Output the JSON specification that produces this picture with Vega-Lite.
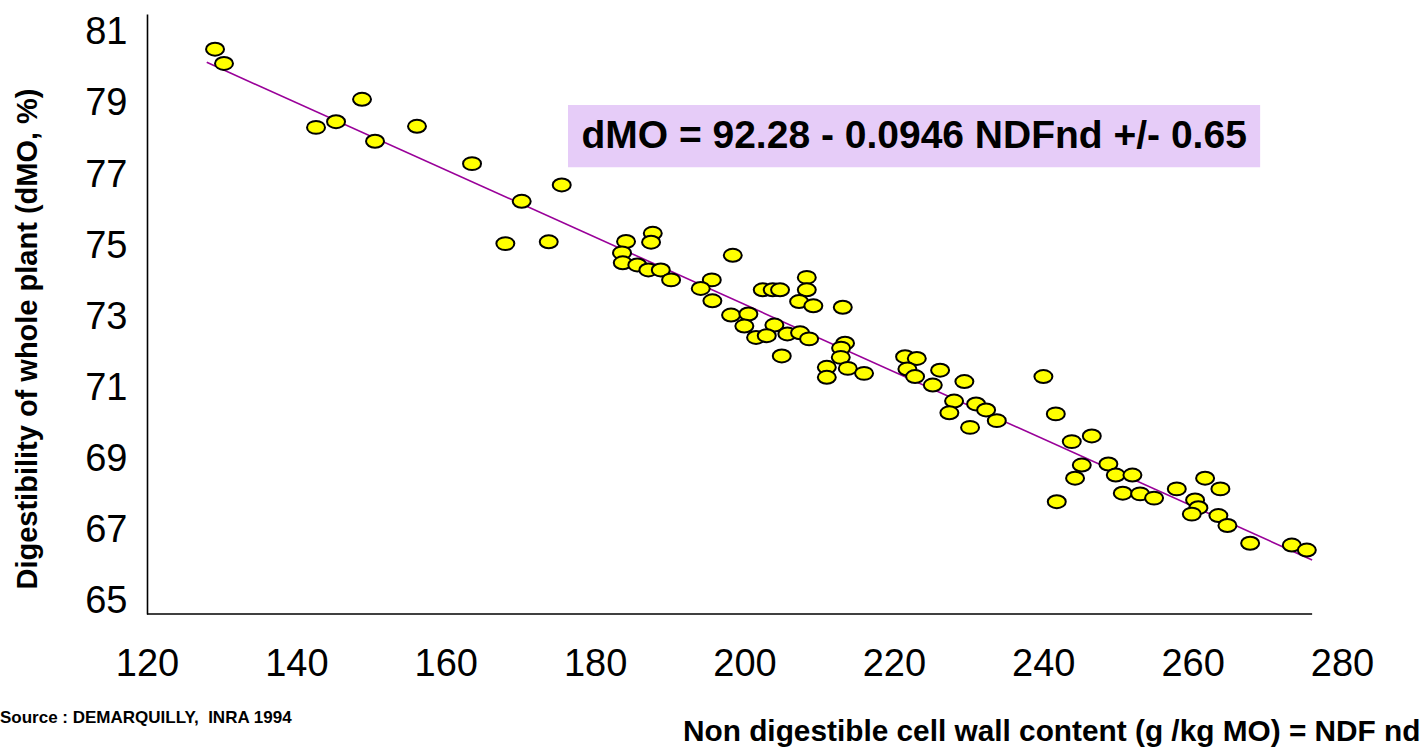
{
  "$schema": "https://vega.github.io/schema/vega-lite/v6.json",
  "width": 1195,
  "height": 600,
  "autosize": "none",
  "padding": {"left": 147, "top": 14, "right": 84, "bottom": 133},
  "background": "white",
  "config": {"view": {"stroke": null}, "font": "Liberation Sans"},
  "datasets": {
    "points": [
      {"ndf": 129.11, "dmo": 80.54}, {"ndf": 130.31, "dmo": 80.14}, {"ndf": 142.63, "dmo": 78.34}, {"ndf": 145.31, "dmo": 78.5},
      {"ndf": 148.79, "dmo": 79.13}, {"ndf": 150.53, "dmo": 77.95}, {"ndf": 156.15, "dmo": 78.37}, {"ndf": 163.52, "dmo": 77.32},
      {"ndf": 170.17, "dmo": 76.26}, {"ndf": 175.53, "dmo": 76.72}, {"ndf": 167.98, "dmo": 75.07}, {"ndf": 173.79, "dmo": 75.12},
      {"ndf": 184.14, "dmo": 75.13}, {"ndf": 187.72, "dmo": 75.36}, {"ndf": 187.49, "dmo": 75.11}, {"ndf": 183.6, "dmo": 74.81},
      {"ndf": 183.7, "dmo": 74.53}, {"ndf": 185.65, "dmo": 74.47}, {"ndf": 187.13, "dmo": 74.33}, {"ndf": 188.79, "dmo": 74.33},
      {"ndf": 190.17, "dmo": 74.05}, {"ndf": 198.43, "dmo": 74.74}, {"ndf": 195.62, "dmo": 74.05}, {"ndf": 194.14, "dmo": 73.81},
      {"ndf": 195.7, "dmo": 73.46}, {"ndf": 202.44, "dmo": 73.77}, {"ndf": 203.78, "dmo": 73.77}, {"ndf": 204.76, "dmo": 73.77},
      {"ndf": 208.34, "dmo": 74.12}, {"ndf": 208.34, "dmo": 73.77}, {"ndf": 207.31, "dmo": 73.44}, {"ndf": 209.22, "dmo": 73.32},
      {"ndf": 213.16, "dmo": 73.28}, {"ndf": 198.2, "dmo": 73.06}, {"ndf": 200.52, "dmo": 73.09}, {"ndf": 199.98, "dmo": 72.75},
      {"ndf": 204.0, "dmo": 72.78}, {"ndf": 201.55, "dmo": 72.43}, {"ndf": 202.98, "dmo": 72.48}, {"ndf": 205.74, "dmo": 72.53},
      {"ndf": 207.44, "dmo": 72.56}, {"ndf": 208.65, "dmo": 72.39}, {"ndf": 204.99, "dmo": 71.91}, {"ndf": 213.46, "dmo": 72.27},
      {"ndf": 212.93, "dmo": 72.13}, {"ndf": 212.89, "dmo": 71.87}, {"ndf": 211.02, "dmo": 71.59}, {"ndf": 211.02, "dmo": 71.31},
      {"ndf": 213.83, "dmo": 71.56}, {"ndf": 216.01, "dmo": 71.42}, {"ndf": 221.5, "dmo": 71.89}, {"ndf": 223.07, "dmo": 71.84},
      {"ndf": 221.81, "dmo": 71.54}, {"ndf": 222.84, "dmo": 71.33}, {"ndf": 226.19, "dmo": 71.51}, {"ndf": 225.21, "dmo": 71.09},
      {"ndf": 229.44, "dmo": 71.19}, {"ndf": 228.06, "dmo": 70.64}, {"ndf": 227.43, "dmo": 70.31}, {"ndf": 231.01, "dmo": 70.56},
      {"ndf": 232.35, "dmo": 70.39}, {"ndf": 233.78, "dmo": 70.09}, {"ndf": 230.2, "dmo": 69.9}, {"ndf": 240.02, "dmo": 71.33},
      {"ndf": 241.68, "dmo": 70.28}, {"ndf": 243.82, "dmo": 69.5}, {"ndf": 246.5, "dmo": 69.66}, {"ndf": 245.16, "dmo": 68.84},
      {"ndf": 244.26, "dmo": 68.47}, {"ndf": 241.81, "dmo": 67.81}, {"ndf": 248.72, "dmo": 68.87}, {"ndf": 249.71, "dmo": 68.56},
      {"ndf": 251.94, "dmo": 68.56}, {"ndf": 250.65, "dmo": 68.05}, {"ndf": 252.97, "dmo": 68.03}, {"ndf": 254.84, "dmo": 67.91},
      {"ndf": 257.88, "dmo": 68.17}, {"ndf": 261.67, "dmo": 68.47}, {"ndf": 263.72, "dmo": 68.17}, {"ndf": 260.33, "dmo": 67.86},
      {"ndf": 260.77, "dmo": 67.64}, {"ndf": 259.89, "dmo": 67.46}, {"ndf": 263.45, "dmo": 67.42}, {"ndf": 264.66, "dmo": 67.14},
      {"ndf": 267.7, "dmo": 66.64}, {"ndf": 273.28, "dmo": 66.59}, {"ndf": 275.29, "dmo": 66.45}
    ],
    "fit": [{"ndf": 128, "dmo": 80.17}, {"ndf": 276, "dmo": 66.17}],
    "one": [{"n": 1}]
  },
  "layer": [
    {
      "data": {"name": "one"},
      "mark": {"type": "rect", "color": "#E6CCF8"},
      "encoding": {
        "x": {"datum": 176.37, "type": "quantitative", "scale": {"domain": [120, 280], "nice": false, "zero": false}},
        "x2": {"datum": 269.04},
        "y": {"datum": 78.97, "type": "quantitative", "scale": {"domain": [64.65, 81.53], "nice": false, "zero": false}},
        "y2": {"datum": 77.22}
      }
    },
    {
      "data": {"name": "one"},
      "mark": {"type": "text", "text": "dMO = 92.28 - 0.0946 NDFnd +/- 0.65", "font": "Liberation Sans", "fontWeight": "bold", "fontSize": 39, "color": "black", "align": "center", "baseline": "middle"},
      "encoding": {
        "x": {"datum": 222.71, "type": "quantitative", "scale": {"domain": [120, 280], "nice": false, "zero": false}},
        "y": {"datum": 78.1, "type": "quantitative", "scale": {"domain": [64.65, 81.53], "nice": false, "zero": false}}
      }
    },
    {
      "data": {"name": "one"},
      "mark": {"type": "text", "text": "Source : DEMARQUILLY,\u00a0 INRA 1994", "font": "Liberation Sans", "fontWeight": "bold", "fontSize": 17, "color": "black", "align": "left", "baseline": "middle", "clip": false},
      "encoding": {
        "x": {"datum": 100.32, "type": "quantitative", "scale": {"domain": [120, 280], "nice": false, "zero": false}},
        "y": {"datum": 61.73, "type": "quantitative", "scale": {"domain": [64.65, 81.53], "nice": false, "zero": false}}
      }
    },
    {
      "data": {"name": "one"},
      "mark": {"type": "rule", "color": "black", "strokeWidth": 1.6},
      "encoding": {
        "x": {"datum": 120, "type": "quantitative", "scale": {"domain": [120, 280], "nice": false, "zero": false}},
        "x2": {"datum": 276},
        "y": {"datum": 64.65, "type": "quantitative", "scale": {"domain": [64.65, 81.53], "nice": false, "zero": false}}
      }
    },
    {
      "data": {"name": "fit"},
      "mark": {"type": "line", "color": "#990099", "strokeWidth": 1.6},
      "encoding": {
        "x": {"field": "ndf", "type": "quantitative", "scale": {"domain": [120, 280], "nice": false, "zero": false}},
        "y": {"field": "dmo", "type": "quantitative", "scale": {"domain": [64.65, 81.53], "nice": false, "zero": false}}
      }
    },
    {
      "data": {"name": "points"},
      "mark": {"type": "point", "shape": "M-1,0A1,0.72,0,1,1,1,0A1,0.72,0,1,1,-1,0Z", "filled": true, "fill": "#FFFF00", "stroke": "#000000", "strokeWidth": 2, "size": 324, "opacity": 1},
      "encoding": {
        "x": {
          "field": "ndf", "type": "quantitative",
          "scale": {"domain": [120, 280], "nice": false, "zero": false},
          "axis": {
            "values": [120, 140, 160, 180, 200, 220, 240, 260, 280],
            "domain": false, "ticks": false, "tickSize": 0, "grid": false,
            "labelFont": "Liberation Sans", "labelFontSize": 38, "labelColor": "black",
            "labelPadding": 31, "labelBaseline": "top", "labelFlush": false, "labelOverlap": false,
            "title": "Non digestible cell wall content (g /kg MO) = NDF nd",
            "titleFont": "Liberation Sans", "titleFontSize": 29.8, "titleFontWeight": "bold", "titleColor": "black",
            "titleX": 1273, "titleY": 126, "titleAlign": "right", "titleBaseline": "alphabetic"
          }
        },
        "y": {
          "field": "dmo", "type": "quantitative",
          "scale": {"domain": [64.65, 81.53], "nice": false, "zero": false},
          "axis": {
            "values": [65, 67, 69, 71, 73, 75, 77, 79, 81],
            "domain": true, "domainColor": "black", "domainWidth": 1.6,
            "ticks": false, "tickSize": 0, "grid": false,
            "labelFont": "Liberation Sans", "labelFontSize": 38, "labelColor": "black",
            "labelPadding": 20, "labelFlush": false, "labelOverlap": false,
            "title": "Digestibility of whole plant (dMO, %)",
            "titleFont": "Liberation Sans", "titleFontSize": 29, "titleFontWeight": "bold", "titleColor": "black",
            "titleX": -111, "titleY": 324.5, "titleAngle": 270, "titleAlign": "center", "titleBaseline": "alphabetic"
          }
        }
      }
    }
  ]
}
